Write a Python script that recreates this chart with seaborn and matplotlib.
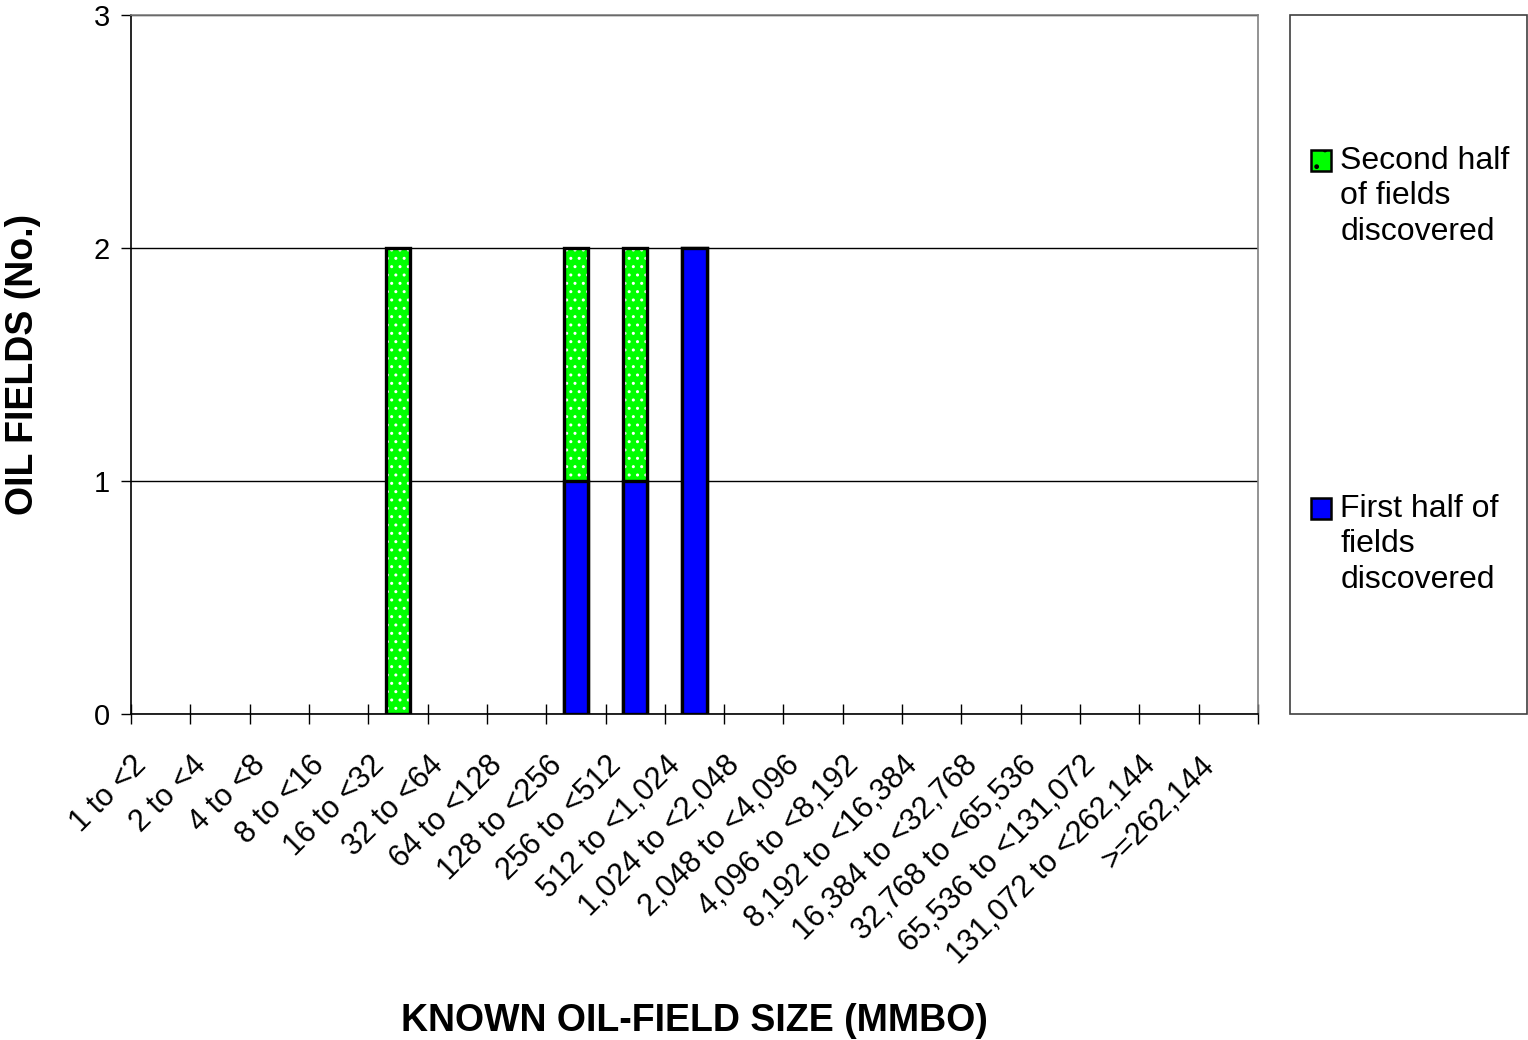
import numpy as np
import pandas as pd
import matplotlib
matplotlib.use("Agg")
import matplotlib.pyplot as plt
import matplotlib.transforms as mtransforms
import seaborn as sns
from matplotlib.patches import Rectangle, Patch
from matplotlib.legend_handler import HandlerPatch
from matplotlib.ticker import FixedLocator

categories = ["1 to <2", "2 to <4", "4 to <8", "8 to <16", "16 to <32", "32 to <64",
              "64 to <128", "128 to <256", "256 to <512", "512 to <1,024",
              "1,024 to <2,048", "2,048 to <4,096", "4,096 to <8,192",
              "8,192 to <16,384", "16,384 to <32,768", "32,768 to <65,536",
              "65,536 to <131,072", "131,072 to <262,144", ">=262,144"]
first_half = [0, 0, 0, 0, 0, 0, 0, 1, 1, 2, 0, 0, 0, 0, 0, 0, 0, 0, 0]
second_half = [0, 0, 0, 0, 2, 0, 0, 1, 1, 0, 0, 0, 0, 0, 0, 0, 0, 0, 0]
y_ticks = [0, 1, 2, 3]

sns.set_theme(style="white")
plt.rcParams['font.family'] = ['Liberation Sans', 'DejaVu Sans']
plt.rcParams['text.color'] = 'black'
plt.rcParams['axes.labelcolor'] = 'black'
plt.rcParams['xtick.color'] = 'black'
plt.rcParams['ytick.color'] = 'black'

df = pd.DataFrame({"cat": categories, "first": first_half, "second": second_half})
df["total"] = df["first"] + df["second"]
df["total_plot"] = df["total"].where(df["total"] > 0)
df["first_plot"] = df["first"].where(df["first"] > 0)

W, H = 1528, 1040
fig = plt.figure(figsize=(W / 100, H / 100), dpi=100)
L, R, T, B = 131, 1258, 15, 714
ax = fig.add_axes([L / W, 1 - B / H, (R - L) / W, (B - T) / H])

GREEN = "#00FF00"
BLUE = "#0000FF"
bw = 0.41
TICK_FS = 21
XTICK_FS = 22
LEG_FS = 23
TITLE_FS = 27

# green (second half stacked on top) drawn as total height, dotted
sns.barplot(data=df, x="cat", y="total_plot", order=categories, color=GREEN,
            width=bw, saturation=1, edgecolor="white", hatch="..", linewidth=0,
            errorbar=None, ax=ax, zorder=3)
# outline for the totals
sns.barplot(data=df, x="cat", y="total_plot", order=categories, color="black",
            width=bw, saturation=1, fill=False, linewidth=2.4,
            errorbar=None, ax=ax, zorder=4)
# blue first half
sns.barplot(data=df, x="cat", y="first_plot", order=categories, color=BLUE,
            width=bw, saturation=1, edgecolor="black", linewidth=2.4,
            errorbar=None, ax=ax, zorder=5)

ax.set_xlim(-0.5, len(categories) - 0.5)
ax.set_ylim(0, 3)
ax.set_yticks(y_ticks)
ax.set_yticklabels([str(v) for v in y_ticks], fontsize=TICK_FS)
ax.yaxis.grid(True, color="black", linewidth=1)
ax.set_axisbelow(True)

# x ticks at category boundaries, labels at centers
ax.xaxis.set_major_locator(FixedLocator(np.arange(-0.5, len(categories), 1.0)))
ax.set_xticklabels([""] * (len(categories) + 1), minor=False)
ax.set_xticks(np.arange(len(categories)), minor=True)
ax.tick_params(axis="x", which="major", direction="inout", length=14, width=1, color="black", bottom=True)
ax.tick_params(axis="x", which="minor", length=0, pad=6)
ax.tick_params(axis="y", direction="out", length=7, width=1, color="black", left=True, pad=8)
ax.set_xticklabels(categories, minor=True, rotation=45, ha="right", va="top",
                   rotation_mode="anchor", fontsize=XTICK_FS)

for s in ["left", "bottom"]:
    ax.spines[s].set_color("black")
    ax.spines[s].set_linewidth(1.2)
for s in ["top", "right"]:
    ax.spines[s].set_color("#808080")
    ax.spines[s].set_linewidth(1.2)

ax.set_xlabel("KNOWN OIL-FIELD SIZE (MMBO)", fontsize=TITLE_FS, fontweight="bold", va="center")
ax.xaxis.set_label_coords(0.5, -(1021 - B) / (B - T))
ax.set_ylabel("OIL FIELDS (No.)", fontsize=TITLE_FS, fontweight="bold", va="center")
ax.yaxis.set_label_coords(-(L - 23) / (R - L), 0.5)

# legend box
fig.patches.append(Rectangle((1290 / W, 1 - 714 / H), (1527 - 1290) / W, (714 - 15) / H,
                             transform=fig.transFigure, facecolor="white",
                             edgecolor="#404040", linewidth=1.2))

LINE_PT = 36 / 100 * 72  # one text line, in points


def top_square(legend, orig_handle, xdescent, ydescent, width, height, fontsize):
    return Rectangle((-xdescent, -ydescent + LINE_PT), width, height)


h_second = Patch(facecolor=GREEN, edgecolor="black", hatch=".", linewidth=1.8)
h_first = Patch(facecolor=BLUE, edgecolor="black", linewidth=1.8)
hmap = {Patch: HandlerPatch(patch_func=top_square)}
leg1 = fig.legend(handles=[h_second], labels=["Second half\nof fields\ndiscovered"],
                  loc="upper left", bbox_to_anchor=(1298 / W, 1 - 133 / H),
                  frameon=False, fontsize=LEG_FS, handlelength=0.62, handleheight=0.62,
                  handletextpad=0.3, borderaxespad=0, handler_map=hmap)
leg2 = fig.legend(handles=[h_first], labels=["First half of\nfields\ndiscovered"],
                  loc="upper left", bbox_to_anchor=(1298 / W, 1 - 481 / H),
                  frameon=False, fontsize=LEG_FS, handlelength=0.62, handleheight=0.62,
                  handletextpad=0.3, borderaxespad=0, handler_map=hmap)
for lg in (leg1, leg2):
    for t in lg.get_texts():
        t.set_linespacing(1.24)

# shift rotated category labels down-left (applied last so tick params don't reset it)
offset = mtransforms.ScaledTranslation(-29 / 100, -28 / 100, fig.dpi_scale_trans)
for lab in ax.get_xticklabels(minor=True):
    lab.set_transform(lab.get_transform() + offset)

fig.savefig("out.png", dpi=100)
